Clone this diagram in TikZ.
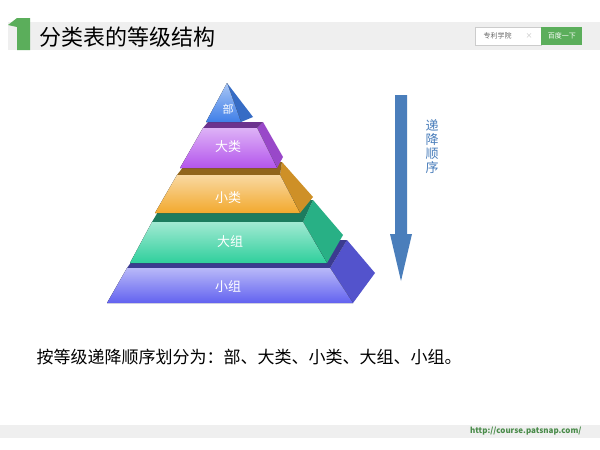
\documentclass[tikz,border=0pt]{standalone}
\usepackage{fontspec}
\setmainfont{Noto Sans CJK SC}
\usetikzlibrary{positioning}
\definecolor{BarGray}{HTML}{EFEFEF}
\definecolor{MarkGreen}{HTML}{5BAE5B}
\definecolor{ArrowBlue}{HTML}{4A7EBB}
\definecolor{LayerTop}{HTML}{3F7FE8}
\definecolor{LayerViolet}{HTML}{B455EC}
\definecolor{LayerOrange}{HTML}{F2A92E}
\definecolor{LayerTeal}{HTML}{2FCF9C}
\definecolor{LayerBlue}{HTML}{6262F0}
\begin{document}
\begin{tikzpicture}[
  x=1pt, y=-1pt,
  front/.style={top color=#1!45, bottom color=#1, draw=none},
  side/.style={fill=#1!85!black, draw=none},
  rim/.style={fill=#1!60!black, draw=none},
  lbl/.style={text=white, font=\fontsize{13}{13}\selectfont},
  hdr/.style={font=\fontsize{22}{22}\selectfont, anchor=west}
]
\useasboundingbox (0,0) rectangle (600,450);
\fill[white] (0,0) rectangle (600,450);

% header
\fill[BarGray] (8,22) rectangle (600,50);
\fill[MarkGreen] (8,25) -- (17,18) -- (30,18) -- (30,50) -- (17,50) -- (17,27) -- cycle;
\node[hdr] (title) at (36,37) {分类表的等级结构};
\node[draw=gray!40, fill=white, minimum width=66, minimum height=18, inner sep=0pt,
  font=\fontsize{7}{7}\selectfont, text=gray!80!black] (search) at (508,36) {专利学院\hspace{14pt}\textcolor{gray!50}{×}};
\node[fill=MarkGreen, minimum width=41, minimum height=18, inner sep=0pt, right=0pt of search,
  font=\fontsize{7}{7}\selectfont, text=white] (go) {百度一下};

% pyramid: layer 5 (bottom)
\fill[side=LayerBlue] (330,268) -- (347,240) -- (375,273) -- (353,303) -- cycle;
\fill[rim=LayerBlue] (127,268) -- (147,240) -- (347,240) -- (330,268) -- cycle;
\fill[front=LayerBlue] (127,268) -- (330,268) -- (353,303) -- (107,303) -- cycle;
\node[lbl] (l5) at (228,287) {小组};
% layer 4
\fill[side=LayerTeal] (303,222) -- (313,200) -- (343,235) -- (327,263) -- cycle;
\fill[rim=LayerTeal] (152,222) -- (165,200) -- (313,200) -- (303,222) -- cycle;
\fill[front=LayerTeal] (152,222) -- (303,222) -- (327,263) -- (130,263) -- cycle;
\node[lbl] (l4) at (230,242) {大组};
% layer 3
\fill[side=LayerOrange] (280,175) -- (282,162) -- (313,197) -- (300,213) -- cycle;
\fill[rim=LayerOrange] (177,175) -- (187,162) -- (282,162) -- (280,175) -- cycle;
\fill[front=LayerOrange] (177,175) -- (280,175) -- (300,213) -- (155,213) -- cycle;
\node[lbl] (l3) at (228,198) {小类};
% layer 2
\fill[side=LayerViolet] (257,128) -- (263,122) -- (283,157) -- (277,168) -- cycle;
\fill[rim=LayerViolet] (203,128) -- (208,122) -- (263,122) -- (257,128) -- cycle;
\fill[front=LayerViolet] (203,128) -- (257,128) -- (277,168) -- (180,168) -- cycle;
\node[lbl] (l2) at (228,147) {大类};
% layer 1 (top)
\fill[side=LayerTop] (227,83) -- (253,117) -- (241,122) -- cycle;
\fill[front=LayerTop] (227,83) -- (241,122) -- (206,122) -- cycle;
\node[lbl, font=\fontsize{11}{11}\selectfont] (l1) at (228,109) {部};

% arrow
\fill[ArrowBlue] (395,95) -- (407,95) -- (407,234) -- (412,234) -- (401,281) -- (390,234) -- (395,234) -- cycle;
\node[text=ArrowBlue, font=\fontsize{13}{14}\selectfont, align=center, inner sep=0pt] (order) at (432,147) {递\\降\\顺\\序};

% caption
\node[anchor=west, font=\fontsize{17}{17}\selectfont] (cap) at (33,357) {按等级递降顺序划分为：部、大类、小类、大组、小组。};

% footer
\fill[BarGray] (0,425) rectangle (600,438);
\node[anchor=east, text=MarkGreen!80!black, font=\fontsize{8}{8}\selectfont\bfseries] (url) at (585,431) {http://course.patsnap.com/};
\end{tikzpicture}
\end{document}
